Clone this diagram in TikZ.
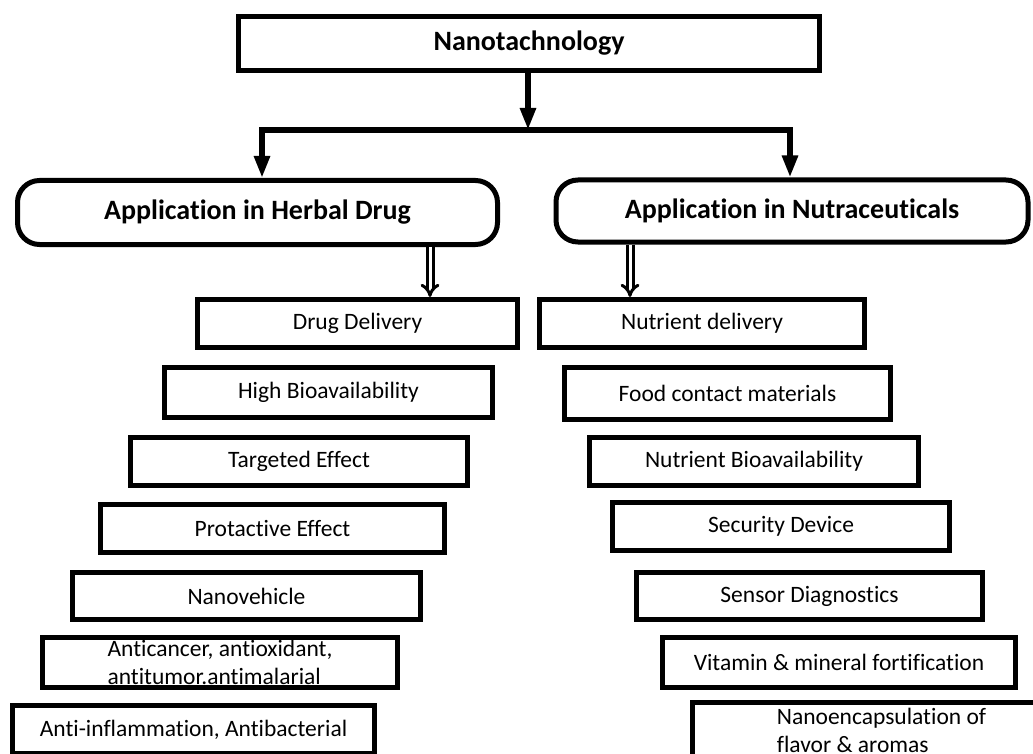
\documentclass[tikz,border=0pt]{standalone}
\usepackage{fontspec}
\setmainfont{Carlito}[Ligatures=NoCommon]
\usetikzlibrary{arrows.meta,positioning,calc}

\tikzset{
  box/.style={draw, line width=5pt, inner sep=0pt, font=\fontsize{23.5}{28}\selectfont},
  head/.style={draw, line width=5pt, rounded corners=22pt, inner sep=0pt, font=\bfseries\fontsize{28}{30}\selectfont},
  feed/.style={line width=6pt, -{Triangle[length=22pt,width=15pt]}},
  bar/.style={line width=6pt},
  dbl/.style={double=white, double distance=3pt, line width=3pt, -{Implies}}
}

\begin{document}
\begin{tikzpicture}[x=1pt,y=-1pt]
        \useasboundingbox (0,0) rectangle (1033,754);
        \clip (0,0) rectangle (1033,754);
        % top
        \node[box, font=\bfseries\fontsize{28}{30}\selectfont, minimum width=581, minimum height=54] (nano) at (529,43.5) {Nanotachnology};
        \node[head, minimum width=480, minimum height=64] (herb) at (257.5,212.5) {Application in Herbal Drug};
        \node[head, minimum width=472, minimum height=62] (nutra) at (792,211) {Application in Nutraceuticals};
        \coordinate (split) at (528,130);
        \coordinate (lj) at (262,130);
        \coordinate (rj) at (790,130);
        \draw[feed] (nano.south -| split) -- (split);
        \draw[bar] ([xshift=-3pt]lj) -- ([xshift=3pt]rj);
        \draw[feed] (lj) -- (lj |- herb.north);
        \draw[feed] (rj) -- (rj |- nutra.north);
        % herbal drug side
        \node[box, minimum width=320, minimum height=48] (dd) at (357.5,323.5) {Drug Delivery};
        \node[box, minimum width=328, minimum height=50] (hb) at (328.5,392.5) {High Bioavailability};
        \node[box, minimum width=337, minimum height=48] (te) at (299,461.5) {Targeted Effect};
        \node[box, minimum width=344, minimum height=48] (pe) at (272.5,528.5) {Protactive Effect};
        \node[box, minimum width=348, minimum height=47] (nv) at (246.5,596) {Nanovehicle};
        \node[box, minimum width=355, minimum height=50, align=left] (ac) at (220,662.5) {Anticancer, antioxidant,\\antitumor.antimalarial};
        \node[box, minimum width=362, minimum height=48] (ai) at (193.5,729.5) {Anti-inflammation, Antibacterial};
        % nutraceuticals side
        \node[box, minimum width=325, minimum height=48] (nd) at (702,323.5) {Nutrient delivery};
        \node[box, minimum width=326, minimum height=52] (fc) at (727.5,393.5) {Food contact materials};
        \node[box, minimum width=329, minimum height=48] (nb) at (754,461.5) {Nutrient Bioavailability};
        \node[box, minimum width=337, minimum height=48] (sd) at (781,526.5) {Security Device};
        \node[box, minimum width=346, minimum height=47] (sg) at (809.5,596) {Sensor Diagnostics};
        \node[box, minimum width=353, minimum height=50] (vm) at (839,662.5) {Vitamin \& mineral fortification};
        \node[box, minimum width=378, minimum height=55, align=left] (ne) at (881.5,730) {Nanoencapsulation of\\flavor \& aromas};
        \coordinate (la) at (430,0);
        \coordinate (ra) at (630,0);
        \draw[dbl] (la |- herb.south) -- (la |- dd.north);
        \draw[dbl] (ra |- nutra.south) -- (ra |- nd.north);
\end{tikzpicture}
\end{document}
